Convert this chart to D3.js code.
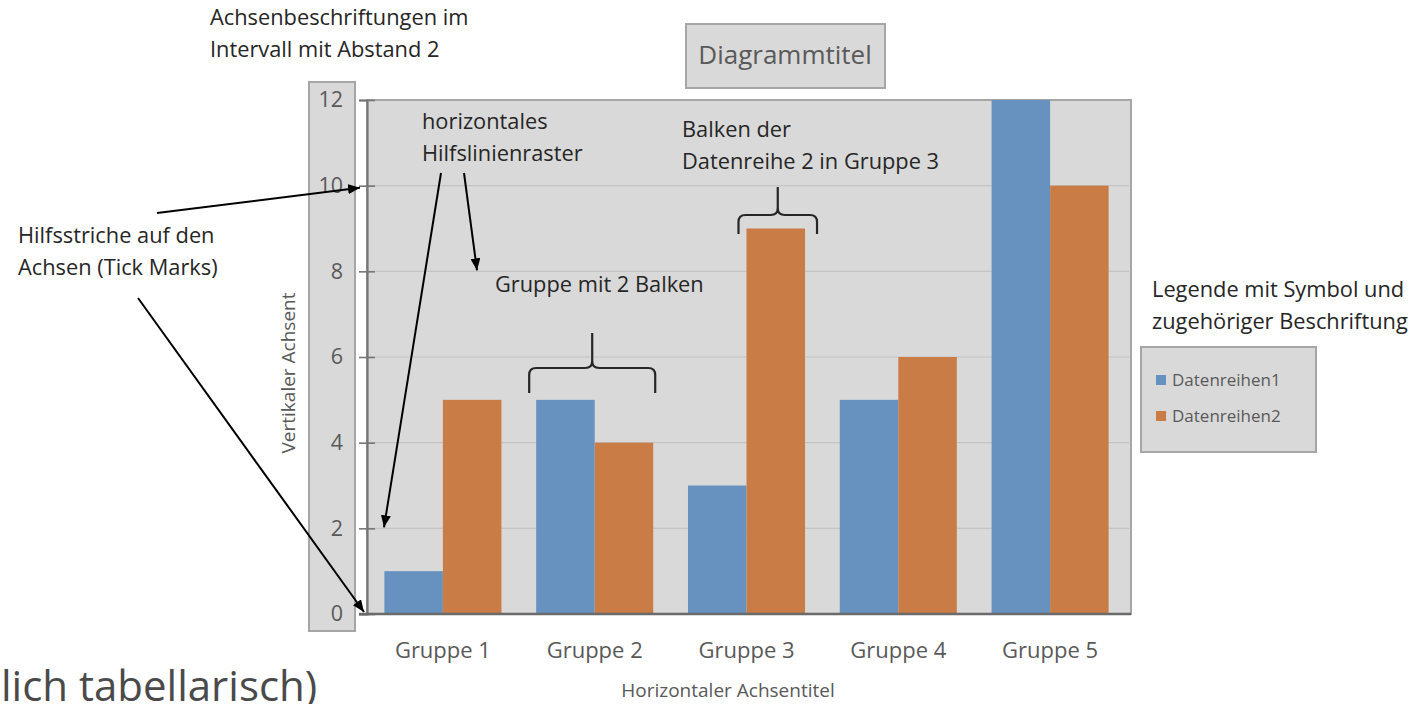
<!DOCTYPE html>
<html>
<head>
<meta charset="utf-8">
<script src="https://cdn.jsdelivr.net/npm/d3@7"></script>
<style>
  html, body { margin: 0; padding: 0; background: #fff; }
  svg { display: block; }
  text { font-family: "Open Sans", "DejaVu Sans", sans-serif; }
</style>
</head>
<body>
<svg id="chart" width="1418" height="704"></svg>
<script>
// ---- data ----
const groups = ["Gruppe 1", "Gruppe 2", "Gruppe 3", "Gruppe 4", "Gruppe 5"];
const seriesNames = ["Datenreihen1", "Datenreihen2"];
const series1 = [1, 5, 3, 5, 12];
const series2 = [5, 4, 9, 6, 10];
const yTicks = [0, 2, 4, 6, 8, 10, 12];
const colors = ["#6792bf", "#c97c46"];

const chartTitle = "Diagrammtitel";
const yTitle = "Vertikaler Achsent";
const xTitle = "Horizontaler Achsentitel";

// ---- layout ----
const plot = { left: 367, right: 1126, frameRight: 1131, top: 100, bottom: 614 };
const chartGrey = "#595959";
const frameGrey = "#a6a6a6";
const fillGrey = "#d9d9d9";

const svg = d3.select("#chart");

const x0 = d3.scaleBand().domain(groups).range([plot.left, plot.right])
  .paddingInner(0.229).paddingOuter(0.1145);
const x1 = d3.scaleBand().domain(seriesNames).range([0, x0.bandwidth()]);
const y = d3.scaleLinear().domain([0, 12]).range([plot.bottom, plot.top]);

// arrow head marker
svg.append("defs").append("marker")
  .attr("id", "head")
  .attr("markerUnits", "userSpaceOnUse")
  .attr("viewBox", "0 0 12 10")
  .attr("markerWidth", 12).attr("markerHeight", 10)
  .attr("refX", 12).attr("refY", 5)
  .attr("orient", "auto")
  .append("path").attr("d", "M0,0 L12,5 L0,10 Z").attr("fill", "#000");

// box behind the value labels
svg.append("rect")
  .attr("x", 309).attr("y", 82).attr("width", 46).attr("height", 549)
  .attr("fill", fillGrey).attr("stroke", frameGrey).attr("stroke-width", 2);

// plot area
svg.append("rect")
  .attr("x", plot.left).attr("y", plot.top)
  .attr("width", plot.frameRight - plot.left).attr("height", plot.bottom - plot.top)
  .attr("fill", fillGrey).attr("stroke", frameGrey).attr("stroke-width", 2);

// horizontal gridlines
svg.append("g").selectAll("line")
  .data(yTicks.filter(d => d > 0 && d < 12))
  .join("line")
  .attr("x1", plot.left).attr("x2", plot.frameRight - 2)
  .attr("y1", d => y(d)).attr("y2", d => y(d))
  .attr("stroke", "#c4c4c4").attr("stroke-width", 1.2);

// bars
const rows = groups.map((g, i) => ({ group: g, values: [series1[i], series2[i]] }));
svg.append("g").selectAll("g")
  .data(rows)
  .join("g")
  .attr("transform", d => `translate(${x0(d.group)},0)`)
  .selectAll("rect")
  .data(d => d.values.map((v, k) => ({ key: seriesNames[k], value: v, k })))
  .join("rect")
  .attr("x", d => x1(d.key))
  .attr("width", x1.bandwidth())
  .attr("y", d => y(d.value))
  .attr("height", d => y(0) - y(d.value))
  .attr("fill", d => colors[d.k]);

// y axis with ticks crossing the axis line
const yAxis = svg.append("g")
  .attr("transform", `translate(${plot.left},0)`)
  .call(d3.axisLeft(y).tickValues(yTicks).tickSize(8).tickPadding(16).tickFormat(d3.format("d")));
yAxis.select(".domain").attr("stroke", "#767676").attr("stroke-width", 2.2);
yAxis.selectAll(".tick line").attr("x1", 8).attr("stroke", "#767676").attr("stroke-width", 1.6);
yAxis.selectAll(".tick text")
  .attr("fill", chartGrey).style("font-size", "21.5px").style("font-family", "'Open Sans', sans-serif");

// x axis
const xAxis = svg.append("g")
  .attr("transform", `translate(0,${plot.bottom})`)
  .call(d3.axisBottom(x0).tickSize(0).tickPadding(28));
xAxis.select(".domain").remove();
xAxis.selectAll(".tick text")
  .attr("fill", chartGrey).style("font-size", "22px").style("font-family", "'Open Sans', sans-serif");
svg.append("line")
  .attr("x1", plot.left - 8).attr("x2", plot.frameRight)
  .attr("y1", y(0)).attr("y2", y(0))
  .attr("stroke", "#6a6a6a").attr("stroke-width", 2.4);

// axis titles
svg.append("text")
  .attr("transform", `translate(295,373) rotate(-90)`)
  .attr("text-anchor", "middle")
  .attr("fill", chartGrey).style("font-size", "19px")
  .text(yTitle);
svg.append("text")
  .attr("x", 728).attr("y", 697)
  .attr("text-anchor", "middle")
  .attr("fill", chartGrey).style("font-size", "19px")
  .text(xTitle);

// chart title in its frame
svg.append("rect")
  .attr("x", 686).attr("y", 24).attr("width", 199).attr("height", 64)
  .attr("fill", fillGrey).attr("stroke", frameGrey).attr("stroke-width", 2);
svg.append("text")
  .attr("x", 785).attr("y", 64)
  .attr("text-anchor", "middle")
  .attr("fill", chartGrey).style("font-size", "26px")
  .text(chartTitle);

// legend
svg.append("rect")
  .attr("x", 1141).attr("y", 347).attr("width", 175).attr("height", 105)
  .attr("fill", fillGrey).attr("stroke", frameGrey).attr("stroke-width", 2);
const legend = svg.append("g").selectAll("g")
  .data(seriesNames)
  .join("g")
  .attr("transform", (d, i) => `translate(1156,${375 + i * 36})`);
legend.append("rect")
  .attr("width", 10).attr("height", 10)
  .attr("fill", (d, i) => colors[i]);
legend.append("text")
  .attr("x", 16).attr("y", 11)
  .attr("fill", chartGrey).style("font-size", "17px")
  .text(d => d);

// ---- annotations ----
const notes = [
  { lines: ["Achsenbeschriftungen im", "Intervall mit Abstand 2"], x: 210, y: 25 },
  { lines: ["horizontales", "Hilfslinienraster"], x: 422, y: 129 },
  { lines: ["Balken der", "Datenreihe 2 in Gruppe 3"], x: 682, y: 137 },
  { lines: ["Gruppe mit 2 Balken"], x: 495, y: 292 },
  { lines: ["Hilfsstriche auf den", "Achsen (Tick Marks)"], x: 18, y: 243 },
  { lines: ["Legende mit Symbol und", "zugehöriger Beschriftung"], x: 1152, y: 297 }
];
const noteG = svg.append("g");
notes.forEach(n => {
  const t = noteG.append("text")
    .attr("x", n.x).attr("y", n.y)
    .attr("fill", "#262626").style("font-size", "21.8px");
  n.lines.forEach((l, i) => t.append("tspan").attr("x", n.x).attr("dy", i ? 32 : 0).text(l));
});

// arrows pointing at tick marks and gridlines
const arrows = [
  { from: [157, 213], to: [360, y(10) + 2] },
  { from: [138, 298], to: [364, y(0) - 2] },
  { from: [441, 173], to: [384, y(2) - 1] },
  { from: [464, 173], to: [477, y(8) - 1] }
];
svg.append("g").selectAll("line")
  .data(arrows)
  .join("line")
  .attr("x1", d => d.from[0]).attr("y1", d => d.from[1])
  .attr("x2", d => d.to[0]).attr("y2", d => d.to[1])
  .attr("stroke", "#000").attr("stroke-width", 2)
  .attr("marker-end", "url(#head)");

// curly braces
function bracePath(xa, xb, yb, ym, yt, r) {
  const xm = (xa + xb) / 2;
  return `M${xa},${yb} L${xa},${ym + r} Q${xa},${ym} ${xa + r},${ym} L${xm - r},${ym} Q${xm},${ym} ${xm},${ym - r} L${xm},${yt}` +
         ` M${xm},${ym - r} Q${xm},${ym} ${xm + r},${ym} L${xb - r},${ym} Q${xb},${ym} ${xb},${ym + r} L${xb},${yb}`;
}
const g2 = x0("Gruppe 2");
const g3o = x0("Gruppe 3") + x1("Datenreihen2");
const braces = [
  { xa: g2 - 7, xb: g2 + x0.bandwidth() + 2, yb: 393, ym: 368, yt: 333 },
  { xa: g3o - 8, xb: g3o + x1.bandwidth() + 12, yb: 234, ym: 215, yt: 187 }
];
svg.append("g").selectAll("path")
  .data(braces)
  .join("path")
  .attr("d", d => bracePath(d.xa, d.xb, d.yb, d.ym, d.yt, 7))
  .attr("fill", "none").attr("stroke", "#262626").attr("stroke-width", 2.2);

// leftover slide text at the lower edge
svg.append("text")
  .attr("x", 1).attr("y", 701)
  .attr("fill", "#4a4a4a").style("font-size", "42px")
  .text("lich tabellarisch)");
</script>
</body>
</html>
